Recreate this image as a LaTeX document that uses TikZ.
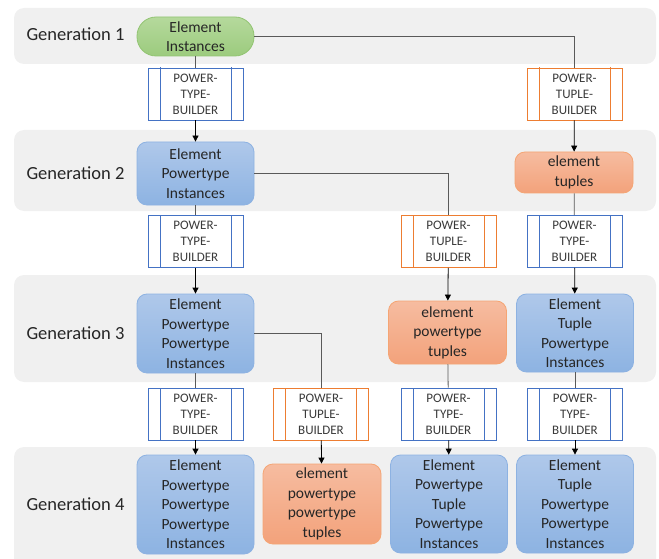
\documentclass[tikz,border=0pt]{standalone}
\usepackage{fontspec}
\setmainfont{Carlito}
\usetikzlibrary{arrows.meta}
\definecolor{band}{HTML}{F0F0F0}
\definecolor{bluetop}{HTML}{AFC8EA}
\definecolor{bluebot}{HTML}{8DB3E2}
\definecolor{blueedge}{HTML}{8DB2E2}
\definecolor{orgtop}{HTML}{F6BCA0}
\definecolor{orgbot}{HTML}{F3A27B}
\definecolor{orgedge}{HTML}{F5A574}
\definecolor{grntop}{HTML}{B5D99C}
\definecolor{grnbot}{HTML}{9CCB7E}
\definecolor{grnedge}{HTML}{92C472}
\definecolor{pblue}{HTML}{4472C4}
\definecolor{porg}{HTML}{ED7D31}
\definecolor{txt}{HTML}{262626}
\definecolor{btxt}{HTML}{3A3A3A}
\tikzset{
  x=1pt,y=-1pt,
  bandbox/.style={fill=band,draw=none,rounded corners=10pt},
  genlabel/.style={font=\fontsize{18.5}{22}\selectfont,text=txt,anchor=west},
  bluenode/.style={draw=blueedge,line width=0.8pt,top color=bluetop,bottom color=bluebot,rounded corners=10pt,minimum width=117pt,align=center,text=txt,font=\fontsize{15.5}{19.5}\selectfont,inner sep=0pt},
  orgnode/.style={draw=orgedge,line width=0.8pt,top color=orgtop,bottom color=orgbot,rounded corners=10pt,minimum width=118pt,align=center,text=txt,font=\fontsize{15.5}{19.5}\selectfont,inner sep=0pt},
  builder/.style={draw=#1,line width=0.9pt,fill=white,minimum width=95pt,minimum height=52pt,align=center,text=btxt,font=\fontsize{13}{16}\selectfont,inner sep=0pt,
    path picture={\draw[#1,line width=0.9pt]
      ([xshift=12pt,yshift=2pt]path picture bounding box.north west) -- ([xshift=12pt,yshift=-2pt]path picture bounding box.south west)
      ([xshift=-12pt,yshift=2pt]path picture bounding box.north east) -- ([xshift=-12pt,yshift=-2pt]path picture bounding box.south east);}},
  conn/.style={draw=black!65,line width=0.8pt},
  arr/.style={draw=black,line width=0.8pt,-{Triangle[length=6pt,width=6pt]}}
}
\begin{document}
\begin{tikzpicture}
\useasboundingbox (0,0) rectangle (659,559);
% bands
\fill[bandbox] (14,8) rectangle (656,64);
\fill[bandbox] (14,130) rectangle (656,211);
\fill[bandbox] (14,275) rectangle (656,382);
\fill[bandbox] (14,447) rectangle (656,572);
\node[genlabel] (g1) at (23,34) {Generation 1};
\node[genlabel] (g2) at (23,173) {Generation 2};
\node[genlabel] (g3) at (23,333) {Generation 3};
\node[genlabel] (g4) at (23,504) {Generation 4};
% gen 1
\node[draw=grnedge,line width=0.8pt,top color=grntop,bottom color=grnbot,rounded corners=19pt,minimum width=117pt,minimum height=39pt,align=center,text=txt,font=\fontsize{15.5}{19.5}\selectfont,inner sep=0pt] (ei) at (195.5,36.5) {Element\\Instances};
\node[builder=pblue] (b1) at (195.5,94) {POWER-\\TYPE-\\BUILDER};
\node[builder=porg] (b2) at (574.5,94) {POWER-\\TUPLE-\\BUILDER};
% gen 2
\node[bluenode,minimum height=63pt] (epi) at (195.5,173.5) {Element\\Powertype\\Instances};
\node[orgnode,minimum height=41pt] (et) at (574,172.5) {element\\tuples};
\node[builder=pblue] (b3) at (195.5,241.5) {POWER-\\TYPE-\\BUILDER};
\node[builder=porg] (b4) at (448.5,241.5) {POWER-\\TUPLE-\\BUILDER};
\node[builder=pblue] (b5) at (574.5,241.5) {POWER-\\TYPE-\\BUILDER};
% gen 3
\node[bluenode,minimum height=79pt] (eppi) at (195.5,333.5) {Element\\Powertype\\Powertype\\Instances};
\node[orgnode,minimum height=63pt] (ept) at (447.5,332.5) {element\\powertype\\tuples};
\node[bluenode,minimum height=78pt] (etpi) at (575,333) {Element\\Tuple\\Powertype\\Instances};
\node[builder=pblue] (b6) at (195.5,414) {POWER-\\TYPE-\\BUILDER};
\node[builder=porg] (b7) at (321,414) {POWER-\\TUPLE-\\BUILDER};
\node[builder=pblue] (b8) at (448.5,414) {POWER-\\TYPE-\\BUILDER};
\node[builder=pblue] (b9) at (575,414) {POWER-\\TYPE-\\BUILDER};
% gen 4
\node[bluenode,minimum height=99pt] (epppi) at (195.5,504.5) {Element\\Powertype\\Powertype\\Powertype\\Instances};
\node[orgnode,minimum height=80pt] (eppt) at (322,504) {element\\powertype\\powertype\\tuples};
\node[bluenode,minimum height=98pt] (eptpi) at (449,504) {Element\\Powertype\\Tuple\\Powertype\\Instances};
\node[bluenode,minimum height=98pt] (etppi) at (575,504) {Element\\Tuple\\Powertype\\Powertype\\Instances};
% connectors
\draw[conn] (ei) -- (b1);
\draw[conn] (ei.east) -| (b2.north);
\draw[arr] (b1) -- (epi);
\draw[arr] (b2) -- (et);
\draw[conn] (epi) -- (b3);
\draw[conn] (epi.east) -| (b4.north);
\draw[conn] (et) -- (b5);
\draw[arr] (b3) -- (eppi);
\draw[arr] (b4) -- (ept);
\draw[arr] (b5) -- (etpi);
\draw[conn] (eppi) -- (b6);
\draw[conn] (eppi.east) -| (b7.north);
\draw[conn] (ept) -- (b8);
\draw[conn] (etpi) -- (b9);
\draw[arr] (b6) -- (epppi);
\draw[arr] (b7) -- (eppt);
\draw[arr] (b8) -- (eptpi);
\draw[arr] (b9) -- (etppi);
\end{tikzpicture}
\end{document}
